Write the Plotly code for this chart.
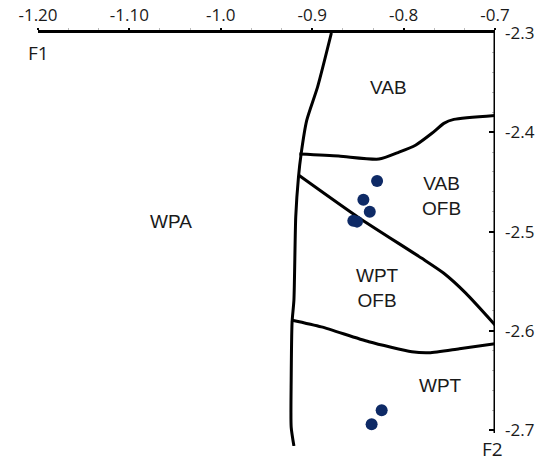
import plotly.graph_objects as go

# Discriminant-function diagram (F1 vs F2) with field boundaries and samples

# sample scores
sample_f1 = [-0.829, -0.844, -0.837, -0.855, -0.851, -0.824, -0.835]
sample_f2 = [-2.449, -2.468, -2.480, -2.489, -2.490, -2.680, -2.694]

# field boundaries
left_f1 = [-0.879, -0.894, -0.906, -0.912, -0.915, -0.918, -0.920, -0.922, -0.923, -0.923, -0.920]
left_f2 = [-2.300, -2.354, -2.388, -2.421, -2.445, -2.485, -2.569, -2.591, -2.650, -2.697, -2.716]

vab_f1 = [-0.914, -0.871, -0.827, -0.805, -0.787, -0.769, -0.756, -0.745, -0.700]
vab_f2 = [-2.422, -2.424, -2.427, -2.420, -2.413, -2.401, -2.391, -2.387, -2.383]

diag_f1 = [-0.915, -0.849, -0.780, -0.756, -0.732, -0.700]
diag_f2 = [-2.443, -2.486, -2.527, -2.542, -2.562, -2.594]

wpt_f1 = [-0.923, -0.890, -0.838, -0.791, -0.772, -0.739, -0.700]
wpt_f2 = [-2.589, -2.596, -2.611, -2.621, -2.622, -2.618, -2.613]

# field names
field_names = ["VAB", "VAB<br>OFB", "WPA", "WPT<br>OFB", "WPT"]
field_f1 = [-0.816, -0.758, -1.055, -0.829, -0.760]
field_f2 = [-2.355, -2.464, -2.490, -2.557, -2.655]

# axis ticks
x_tickvals = [-1.2, -1.1, -1.0, -0.9, -0.8, -0.7]
x_ticktext = ["-1.20", "-1.10", "-1.0", "-0.9", "-0.8", "-0.7"]
y_tickvals = [-2.3, -2.4, -2.5, -2.6, -2.7]
y_ticktext = ["-2.3", "-2.4", "-2.5", "-2.6", "-2.7"]

fig = go.Figure()

for fx, fy in [(left_f1, left_f2), (vab_f1, vab_f2), (diag_f1, diag_f2), (wpt_f1, wpt_f2)]:
    fig.add_trace(go.Scatter(
        x=fx, y=fy, mode="lines",
        line=dict(color="black", width=3, shape="spline", smoothing=0.6),
        hoverinfo="skip", showlegend=False,
    ))

fig.add_trace(go.Scatter(
    x=sample_f1, y=sample_f2, mode="markers",
    marker=dict(color="#0e2a66", size=12, line=dict(width=0)),
    showlegend=False,
))

for name, fx, fy in zip(field_names, field_f1, field_f2):
    fig.add_annotation(
        x=fx, y=fy, text=name, showarrow=False,
        font=dict(family="Liberation Sans, Arial", size=19, color="#1a1a1a"),
        align="center",
    )

# right-hand F2 axis line
fig.add_shape(type="line", x0=-0.7, x1=-0.7, y0=-2.3, y1=-2.703,
              xref="x", yref="y", line=dict(color="black", width=3))

# axis titles
fig.add_annotation(x=0.0, y=1.0, xref="paper", yref="paper", text="F1",
                   showarrow=False, xanchor="left", yanchor="top", yshift=-5, xshift=-12,
                   font=dict(family="Open Sans", size=19, color="#1a1a1a"))
fig.add_annotation(x=1.0, y=0.0, xref="paper", yref="paper", text="F2",
                   showarrow=False, xanchor="center", yanchor="bottom", yshift=-18, xshift=-3,
                   font=dict(family="Open Sans", size=19, color="#1a1a1a"))

tick_font = dict(family="Open Sans", size=17, color="#1a1a1a")

fig.update_xaxes(
    range=[-1.2, -0.7], side="top", showgrid=False, zeroline=False,
    showline=True, linecolor="black", linewidth=3, automargin=False,
    tickmode="array", tickvals=x_tickvals, ticktext=x_ticktext,
    ticks="outside", ticklen=2, tickwidth=2, tickcolor="black",
    tickfont=tick_font,
    minor=dict(ticks="outside", dtick=0.0333333, ticklen=2, tickwidth=1, tickcolor="#bbbbbb"),
)
fig.update_yaxes(
    range=[-2.716, -2.3], side="right", showgrid=False, zeroline=False,
    showline=False, automargin=False,
    tickmode="array", tickvals=y_tickvals, ticktext=y_ticktext,
    ticks="inside", ticklen=6, tickwidth=2, tickcolor="black",
    tickfont=tick_font, ticklabelstandoff=9,
    minor=dict(ticks="inside", dtick=0.02, ticklen=3, tickwidth=1, tickcolor="#bbbbbb"),
)

fig.update_layout(
    width=536, height=461, autosize=False,
    margin=dict(l=38, r=41, t=33, b=15),
    paper_bgcolor="white", plot_bgcolor="white",
)

fig.write_html("out.html")
